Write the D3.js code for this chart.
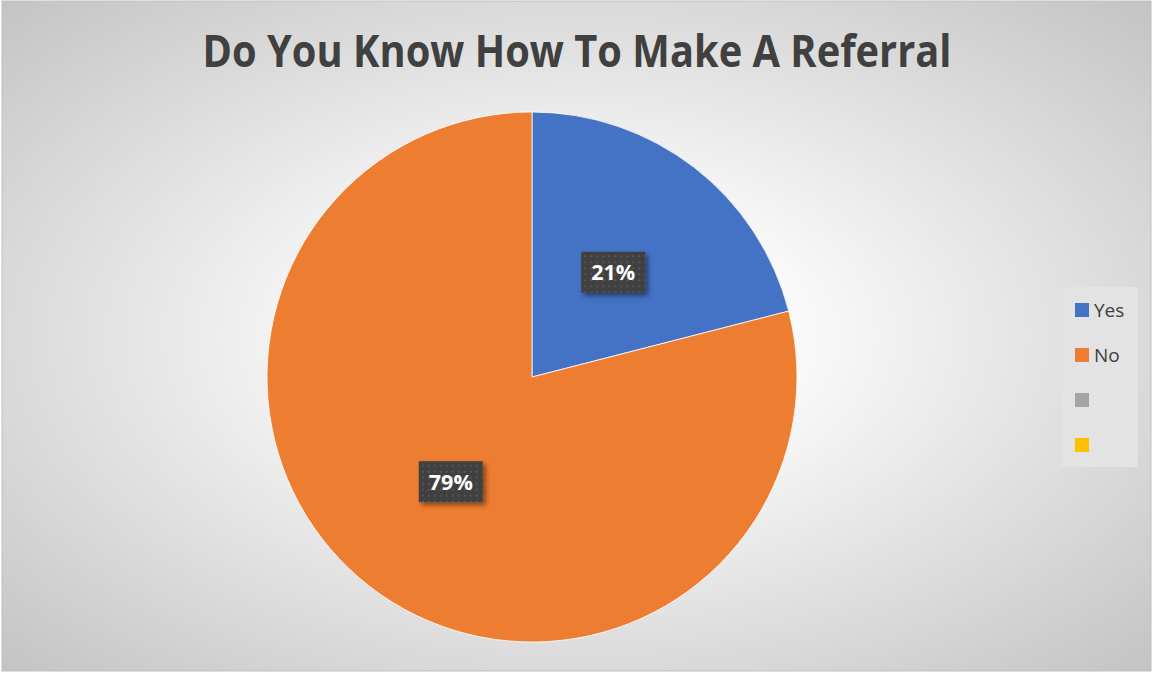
<!DOCTYPE html>
<html>
<head>
<meta charset="utf-8">
<script src="https://cdn.jsdelivr.net/npm/d3@7"></script>
<style>
  body { margin: 0; background: #fff; }
  svg { display: block; }
</style>
</head>
<body>
<div id="wrapper"></div>
<script>
const categories = ["Yes", "No", "", ""]
const values = [21, 79, 0, 0]
const colors = ["#4472C4", "#ED7D31", "#A5A5A5", "#FFC000"]
const title = "Do You Know How To Make A Referral"

const width = 1153
const height = 675

const svg = d3.select("#wrapper")
    .append("svg")
    .attr("width", width)
    .attr("height", height)

const defs = svg.append("defs")

// background gradient
const bg = defs.append("radialGradient")
    .attr("id", "bg")
    .attr("cx", "50%").attr("cy", "50%").attr("r", "72%")
bg.append("stop").attr("offset", "0%").attr("stop-color", "#ffffff")
bg.append("stop").attr("offset", "25%").attr("stop-color", "#fbfbfb")
bg.append("stop").attr("offset", "100%").attr("stop-color", "#c2c2c2")

// dotted pattern for data label boxes
const pat = defs.append("pattern")
    .attr("id", "dots")
    .attr("width", 6).attr("height", 6)
    .attr("patternUnits", "userSpaceOnUse")
pat.append("rect").attr("width", 6).attr("height", 6).attr("fill", "#404040")
pat.append("rect").attr("x", 1).attr("y", 1).attr("width", 2).attr("height", 2).attr("fill", "#555555")

const shadow = defs.append("filter").attr("id", "shadow")
    .attr("x", "-30%").attr("y", "-30%").attr("width", "170%").attr("height", "170%")
shadow.append("feDropShadow")
    .attr("dx", 3).attr("dy", 3).attr("stdDeviation", 2.5)
    .attr("flood-color", "#000").attr("flood-opacity", 0.45)

svg.append("rect")
    .attr("x", 2).attr("y", 1)
    .attr("width", width - 4).attr("height", 670)
    .attr("fill", "url(#bg)")
    .attr("stroke", "#bfbfbf")

svg.append("text")
    .attr("x", 577).attr("y", 67)
    .attr("text-anchor", "middle")
    .attr("font-family", "'Open Sans', sans-serif")
    .attr("font-weight", "bold")
    .attr("font-size", 45)
    .attr("fill", "#404040")
    .attr("textLength", 749)
    .attr("lengthAdjust", "spacingAndGlyphs")
    .text(title)

// pie
const cx = 532, cy = 377, radius = 265
const pie = d3.pie().sort(null).value(d => d)
const arcs = pie(values)
const arc = d3.arc().innerRadius(0).outerRadius(radius)
const labelArc = d3.arc().innerRadius(radius * 0.5).outerRadius(radius * 0.5)

const g = svg.append("g").attr("transform", `translate(${cx},${cy})`)

g.selectAll("path")
    .data(arcs)
    .join("path")
    .attr("d", arc)
    .attr("fill", (d, i) => colors[i])
    .attr("stroke", "#ffffff")
    .attr("stroke-width", d => d.value > 0 ? 0.8 : 0)

const total = d3.sum(values)
const labels = g.selectAll("g.label")
    .data(arcs.filter(d => d.value > 0))
    .join("g")
    .attr("class", "label")
    .attr("transform", d => `translate(${labelArc.centroid(d)})`)

labels.append("rect")
    .attr("x", -32).attr("y", -20.5)
    .attr("width", 64).attr("height", 41)
    .attr("fill", "url(#dots)")
    .attr("filter", "url(#shadow)")

labels.append("text")
    .attr("text-anchor", "middle")
    .attr("dy", "0.36em")
    .attr("font-family", "'Open Sans', sans-serif")
    .attr("font-weight", "bold")
    .attr("font-size", 22)
    .attr("fill", "#ffffff")
    .attr("textLength", 44)
    .attr("lengthAdjust", "spacingAndGlyphs")
    .text(d => Math.round(d.value / total * 100) + "%")

// legend
const legend = svg.append("g")
legend.append("rect")
    .attr("x", 1062).attr("y", 287)
    .attr("width", 76).attr("height", 180)
    .attr("fill", "#e3e3e3")

const legendY = d3.scalePoint()
    .domain(d3.range(categories.length))
    .range([310, 445])

const items = legend.selectAll("g.item")
    .data(categories)
    .join("g")
    .attr("class", "item")
    .attr("transform", (d, i) => `translate(1075,${legendY(i)})`)

items.append("rect")
    .attr("x", 0).attr("y", -7)
    .attr("width", 14).attr("height", 14)
    .attr("fill", (d, i) => colors[i])

items.append("text")
    .attr("x", 19).attr("dy", "0.35em")
    .attr("font-family", "'Open Sans', sans-serif")
    .attr("font-size", 19)
    .attr("fill", "#404040")
    .text(d => d)
</script>
</body>
</html>
